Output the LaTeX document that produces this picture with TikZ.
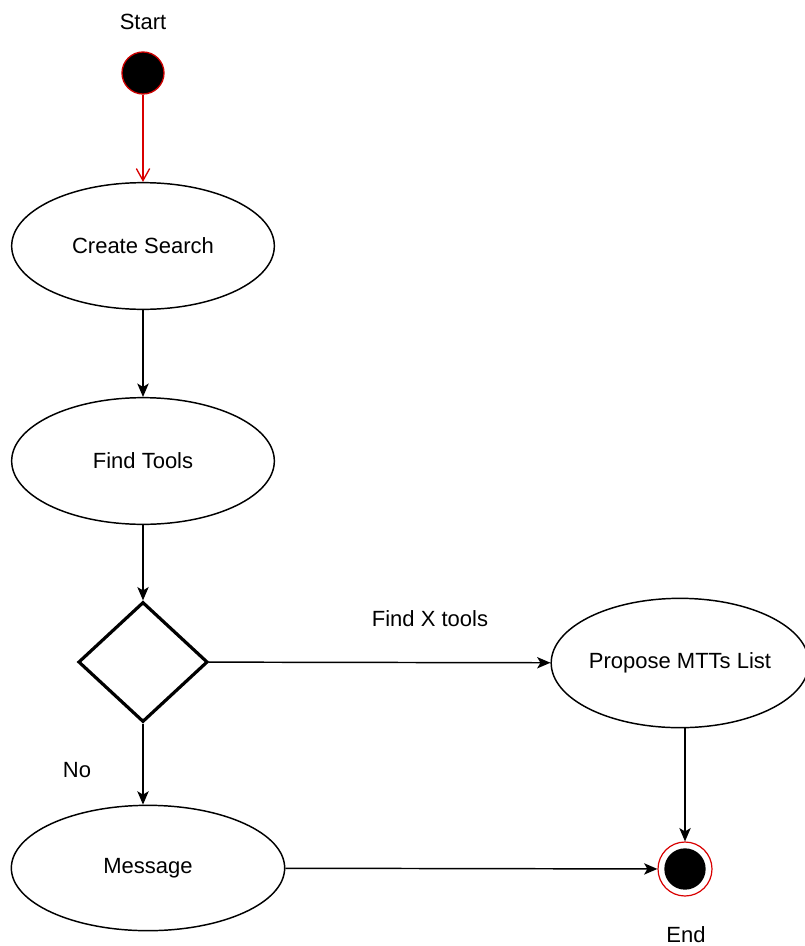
\documentclass[tikz,border=0pt]{standalone}
\usepackage{fontspec}
\setmainfont{Liberation Sans}
\usetikzlibrary{shapes.geometric,arrows.meta}
\tikzset{txt/.style={font=\fontsize{16.5}{19}\selectfont}}
\tikzset{act/.style={ellipse,draw,line width=1.1pt,inner sep=0pt,minimum width=197pt,minimum height=95pt,txt}}
\tikzset{dot/.style={circle,draw=red!80!black,fill=black,line width=1pt,inner sep=0pt,minimum size=31.5pt}}
\tikzset{flow/.style={line width=1.1pt,-{Stealth[length=10pt,width=8.5pt,inset=2.5pt]}}}
\tikzset{choice/.style={diamond,draw,line width=2.4pt,inner sep=0pt,minimum width=97pt,minimum height=90pt}}

\begin{document}
\begin{tikzpicture}[x=0.75pt,y=-0.75pt]
    \useasboundingbox (0,0) rectangle (804,946);
    \node[txt] at (143,22) {Start};
    \node[dot] (start) at (143,73) {};
    \node[act] (search) at (143,246) {Create Search};
    \node[act] (find) at (143,461) {Find Tools};
    \node[choice] (check) at (143,662) {};
    \node[act,minimum width=189pt,minimum height=97pt] (propose) at (680,663) {Propose MTTs List};
    \node[act,minimum width=205pt,minimum height=94pt] (msg) at (148,868) {Message};
    \node[circle,draw=red!85!black,fill=white,line width=0.9pt,inner sep=0pt,minimum size=40.5pt] (stop) at (685,869) {};
    \node[circle,fill=black,inner sep=0pt,minimum size=31pt] at (stop) {};
    \node[txt] at (686,935) {End};
    \node[txt] at (430,619) {Find X tools};
    \node[txt] at (77,770) {No};
    \draw[red!85!black,line width=1pt,-{Straight Barb[length=9pt,width=10pt]}] (start) -- (search);
    \draw[flow] (search) -- (find);
    \draw[flow] (find) -- (check);
    \draw[flow] (check) -- (propose);
    \draw[flow] (check) -- (check |- msg.north);
    \draw[flow] (msg) -- (stop);
    \draw[flow] (propose.south -| stop) -- (stop);
  \end{tikzpicture}
\end{document}
